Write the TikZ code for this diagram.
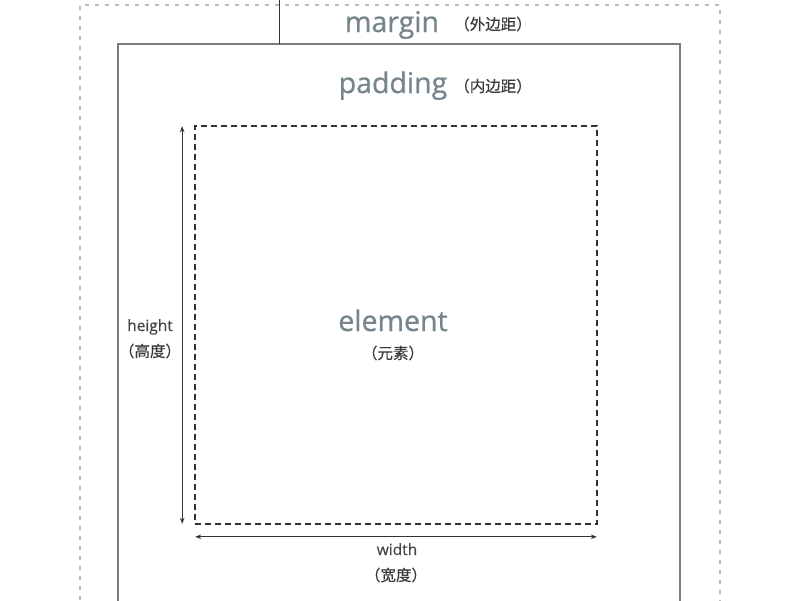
\documentclass[tikz,border=0pt]{standalone}
\usepackage{fontspec}
\setmainfont{Open Sans}
\newfontfamily\titlefont[FakeBold=0.7]{Open Sans}
\newfontfamily\labelfont[FakeBold=0.3]{Open Sans}
\newfontfamily\cjk[FakeBold=0.3]{Noto Sans CJK SC}
\usetikzlibrary{arrows.meta}
\definecolor{titlegray}{HTML}{76858B}
\definecolor{textgray}{HTML}{444444}
\definecolor{cjkgray}{HTML}{3A3A3A}
\definecolor{lightdash}{HTML}{BDBDBD}
\definecolor{borderline}{HTML}{7A7A7A}
\definecolor{darkline}{HTML}{333333}
\tikzset{
  bigtitle/.style={font=\titlefont\fontsize{28.5}{30}\selectfont, text=titlegray, inner sep=0pt, anchor=base},
  cjklabel/.style={font=\cjk\fontsize{15.5}{16}\selectfont, text=cjkgray, inner sep=0pt},
  smalltitle/.style={font=\labelfont\fontsize{15.5}{17}\selectfont, text=textgray, inner sep=0pt, anchor=base},
  marginline/.style={draw=lightdash, line width=1.2pt, dash pattern=on 4pt off 6pt},
  borderbox/.style={draw=borderline, line width=2pt},
  elembox/.style={draw=darkline, line width=1.6pt, dash pattern=on 6pt off 4pt, minimum width=402pt, minimum height=398pt, inner sep=0pt},
  dimarrow/.style={draw=darkline, line width=1pt, {Stealth[length=6pt,width=4.5pt]}-{Stealth[length=6pt,width=4.5pt]}}
}
\begin{document}
\begin{tikzpicture}[x=1pt,y=-1pt]
\useasboundingbox[fill=white] (0,0) rectangle (800,600);
% margin (outer dashed)
\draw[marginline] (80,620) -- (80,5) -- (720,5) -- (720,620);
% border (solid)
\draw[borderbox] (118,620) -- (118,44) -- (680,44) -- (680,620);
% margin indicator line
\coordinate (mtop) at (279,0);
\coordinate (mbot) at (279,44);
\draw[line width=1pt, draw=darkline] (mtop) -- (mbot);
% element box
\node[elembox] (elem) at (396,325) {};
% labels
\node[bigtitle] (margin) at (392,32) {margin};
\node[cjklabel] (marginzh) at (493,24) {（外边距）};
\node[bigtitle] (padding) at (393,93) {padding};
\node[cjklabel] (paddingzh) at (493,86) {（内边距）};
\node[bigtitle] (element) at (393,331) {element};
\node[cjklabel] (elementzh) at (393,353) {（元素）};
\node[smalltitle] (height) at (150,331) {height};
\node[cjklabel] (heightzh) at (150,351) {（高度）};
\node[smalltitle] (width) at (397,555) {width};
\node[cjklabel] (widthzh) at (396,575) {（宽度）};
% dimension arrows
\coordinate (hA) at ([xshift=-12pt,yshift=-1pt]elem.north west);
\coordinate (hB) at ([xshift=-12pt,yshift=1pt]elem.south west);
\draw[dimarrow] (hA) -- (hB);
\coordinate (wA) at ([yshift=-12pt,xshift=1pt]elem.south west);
\coordinate (wB) at ([yshift=-12pt,xshift=-1pt]elem.south east);
\draw[dimarrow] (wA) -- (wB);
\end{tikzpicture}
\end{document}
